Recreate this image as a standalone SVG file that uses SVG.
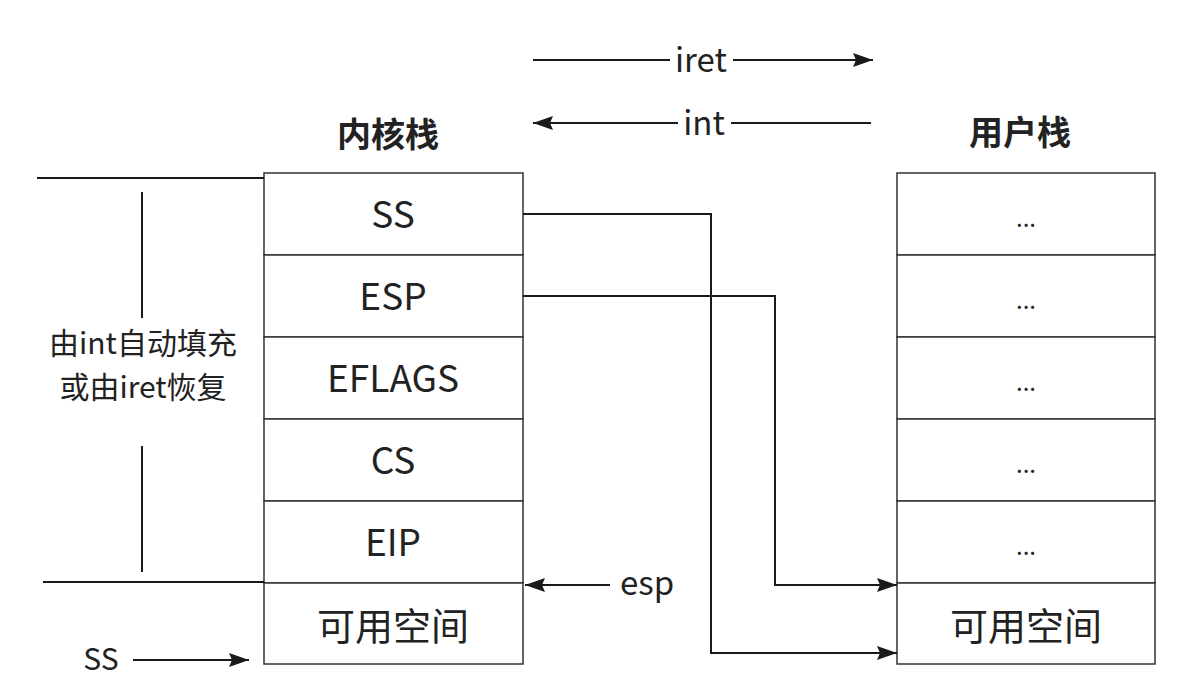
<svg xmlns="http://www.w3.org/2000/svg" width="1202" height="686" viewBox="0 0 1202 686">
<style>
text{font-family:"Noto Sans CJK SC","Noto Sans",sans-serif;fill:#222;}
.cell{fill:#fff;stroke:#333;stroke-width:1.5;}
.lbl{font-size:37px;text-anchor:middle;dominant-baseline:central;}
.free{font-size:38px;text-anchor:middle;dominant-baseline:central;}
.dots{font-size:24px;text-anchor:middle;dominant-baseline:central;}
.title{font-size:34px;font-weight:bold;text-anchor:middle;}
.ln{fill:none;stroke:#1a1a1a;stroke-width:2;}
.note{font-size:30px;text-anchor:middle;}
.sm{font-size:33px;text-anchor:middle;}
</style>
<defs>
<marker id="ahb" viewBox="0 0 20 14" refX="20" refY="7" markerWidth="22" markerHeight="14" markerUnits="userSpaceOnUse" orient="auto">
<path d="M0,0 L20,7 L0,14 L3,7 z" fill="#1a1a1a"/>
</marker>
</defs>
<rect width="1202" height="686" fill="#fff"/>

<g id="titles">
<text class="title" x="388" y="147">内核栈</text>
<text class="title" x="1020" y="145">用户栈</text>
</g>

<g id="kernel-stack">
<g id="k-ss"><rect class="cell" x="264" y="173" width="259" height="82"/><text class="lbl" x="393" y="212">SS</text></g>
<g id="k-esp"><rect class="cell" x="264" y="255" width="259" height="82"/><text class="lbl" x="393" y="294">ESP</text></g>
<g id="k-eflags"><rect class="cell" x="264" y="337" width="259" height="82"/><text class="lbl" x="393" y="376">EFLAGS</text></g>
<g id="k-cs"><rect class="cell" x="264" y="419" width="259" height="82"/><text class="lbl" x="393" y="458">CS</text></g>
<g id="k-eip"><rect class="cell" x="264" y="501" width="259" height="82"/><text class="lbl" x="393" y="540">EIP</text></g>
<g id="k-free"><rect class="cell" x="264" y="583" width="259" height="81"/><text class="free" x="393" y="623">可用空间</text></g>
</g>

<g id="user-stack">
<g id="u-1"><rect class="cell" x="897" y="173" width="258" height="82"/><text class="dots" x="1026" y="216">...</text></g>
<g id="u-2"><rect class="cell" x="897" y="255" width="258" height="82"/><text class="dots" x="1026" y="298">...</text></g>
<g id="u-3"><rect class="cell" x="897" y="337" width="258" height="82"/><text class="dots" x="1026" y="380">...</text></g>
<g id="u-4"><rect class="cell" x="897" y="419" width="258" height="82"/><text class="dots" x="1026" y="462">...</text></g>
<g id="u-5"><rect class="cell" x="897" y="501" width="258" height="82"/><text class="dots" x="1026" y="544">...</text></g>
<g id="u-free"><rect class="cell" x="897" y="583" width="258" height="81"/><text class="free" x="1026" y="623">可用空间</text></g>
</g>

<g id="left-annotation">
<line class="ln" x1="37" y1="178" x2="264" y2="178"/>
<line class="ln" x1="43" y1="582" x2="264" y2="582"/>
<line class="ln" x1="142" y1="192" x2="142" y2="318"/>
<line class="ln" x1="142" y1="446" x2="142" y2="572"/>
<text class="note" x="143" y="354">由int自动填充</text>
<text class="note" x="143" y="398">或由iret恢复</text>
</g>

<g id="ss-label">
<text x="101" y="670" style="font-size:30px;text-anchor:middle">SS</text>
</g>

<g id="esp-label">
<text class="sm" x="647" y="595">esp</text>
</g>

<g id="iret-int">
<text class="sm" x="701" y="72">iret</text>
<text class="sm" x="704" y="135">int</text>
</g>

<g id="connectors">
<line class="ln" x1="533" y1="60" x2="670" y2="60"/>
<line class="ln" x1="733" y1="60" x2="873" y2="60" marker-end="url(#ahb)"/>
<line class="ln" x1="678" y1="123" x2="533" y2="123" marker-end="url(#ahb)"/>
<line class="ln" x1="731" y1="123" x2="871" y2="123"/>
<line class="ln" x1="133" y1="660" x2="249" y2="660" marker-end="url(#ahb)"/>
<line class="ln" x1="610" y1="585" x2="525" y2="585" marker-end="url(#ahb)"/>
<polyline class="ln" points="523,214 711,214 711,653 897,653" marker-end="url(#ahb)"/>
<polyline class="ln" points="523,296 775,296 775,585 897,585" marker-end="url(#ahb)"/>
</g>
</svg>
